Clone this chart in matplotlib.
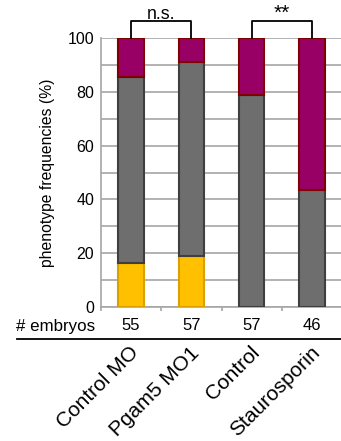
import matplotlib
matplotlib.use("Agg")
import matplotlib.pyplot as plt
from matplotlib.lines import Line2D
from matplotlib.transforms import blended_transform_factory
import numpy as np

plt.rcParams['font.family'] = ['Liberation Sans', 'DejaVu Sans']

categories = ["Control MO", "Pgam5 MO1", "Control", "Staurosporin"]
embryos = [55, 57, 57, 46]
yellow_vals = [16.4, 19.0, 0.0, 0.0]
gray_vals = [69.1, 72.0, 78.9, 43.5]
magenta_vals = [14.5, 9.0, 21.1, 56.5]
yticks = [0, 20, 40, 60, 80, 100]

W, H = 341, 441
fig = plt.figure(figsize=(W / 100, H / 100), dpi=100)
ax = fig.add_axes([101 / W, (H - 307) / H, 241 / W, 269 / H])

x = np.arange(len(categories))
bw = 0.42
ew = 1.5
ax.bar(x, yellow_vals, bw, color="#FFC000", edgecolor="#D9A000", linewidth=ew, zorder=3)
bottom2 = np.array(yellow_vals)
ax.bar(x, gray_vals, bw, bottom=bottom2, color="#6E6E6E", edgecolor="#3F3F3F", linewidth=ew, zorder=3)
bottom3 = bottom2 + np.array(gray_vals)
ax.bar(x, magenta_vals, bw, bottom=bottom3, color="#990066", edgecolor="#7F0000", linewidth=ew, zorder=3)

ax.set_xlim(-0.5, 3.5)
ax.set_ylim(0, 100)
ax.set_yticks(yticks)
ax.set_yticks(np.arange(0, 101, 10), minor=True)
ax.yaxis.grid(True, which="both", color="#A6A6A6", linewidth=1.2, zorder=0)
ax.tick_params(axis="y", which="both", length=0, labelsize=11.5, pad=5)
ax.set_xticks(np.arange(-0.5, 3.6, 1.0))
ax.set_xticklabels([])
ax.tick_params(axis="x", length=3, color="#A6A6A6", width=1.2)
for s in ["top", "right"]:
    ax.spines[s].set_visible(False)
for s in ["left", "bottom"]:
    ax.spines[s].set_color("#A6A6A6")
    ax.spines[s].set_linewidth(1.2)
ax.set_ylabel("phenotype frequencies (%)", fontsize=11.3, labelpad=9)

# significance brackets
ytop = 106.3
for (i, j, lab, fs) in [(0, 1, "n.s.", 12.8), (2, 3, "**", 15)]:
    ax.plot([i, i, j, j], [100, ytop, ytop, 100], color="black", lw=1.3,
            clip_on=False, zorder=4)
    ax.text((i + j) / 2, ytop + 0.8, lab, ha="center", va="baseline", fontsize=fs)

# embryo counts row
tr = blended_transform_factory(ax.transData, fig.transFigure)
fig.text(16 / W, 1 - 326 / H, "# embryos", ha="left", va="center", fontsize=12.2)
for xi, n in zip(x, embryos):
    ax.text(xi, 1 - 326 / H, str(n), transform=tr, ha="center", va="center",
            fontsize=12)
fig.add_artist(Line2D([17 / W, 1.0], [1 - 339 / H, 1 - 339 / H],
                      transform=fig.transFigure, color="black", lw=1.3))

# rotated category labels
for xi, lab in zip(x, categories):
    ax.text(xi - 0.03, 1 - 343 / H, lab, transform=tr, rotation=45,
            rotation_mode="anchor", ha="right", va="top", fontsize=15)

fig.savefig("out.png", dpi=100)
